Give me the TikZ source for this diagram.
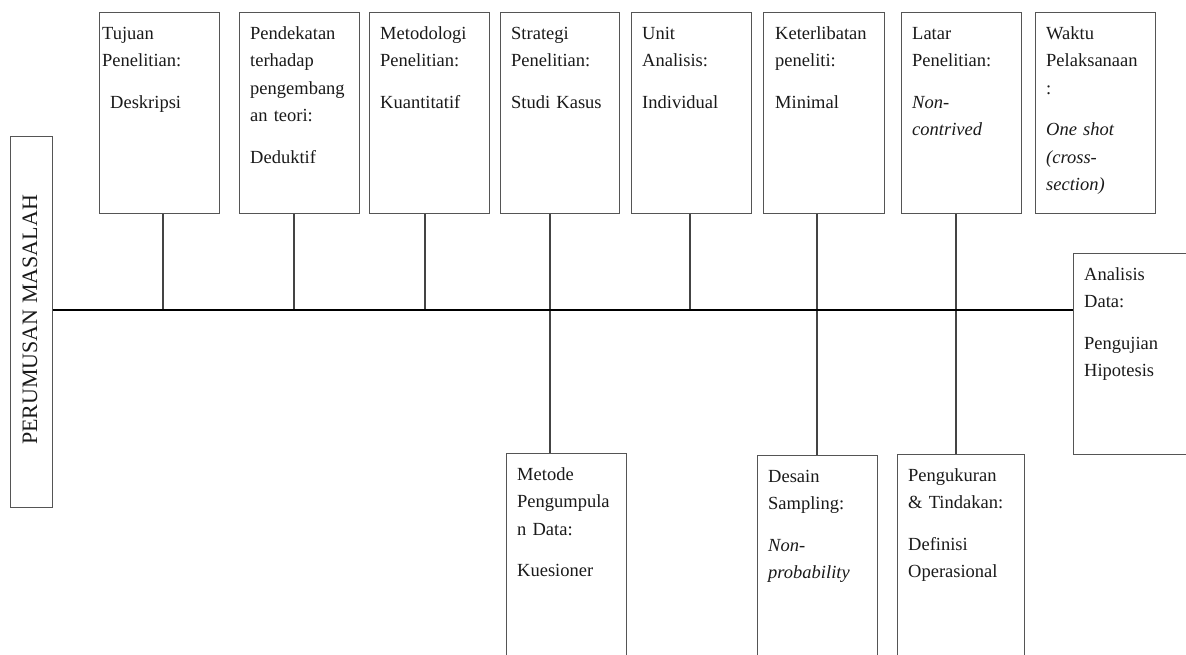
\documentclass[tikz,border=0pt]{standalone}
\usepackage{fontspec}
\setmainfont{Liberation Serif}
\definecolor{boxgray}{HTML}{555555}
\definecolor{txtcol}{HTML}{1A1A1A}
\begin{document}
\begin{tikzpicture}[x=1pt,y=-1pt,
  frame/.style={draw=boxgray, line width=1.2pt, anchor=north west, inner sep=0pt},
  topbox/.style={frame, minimum width=120pt, minimum height=201pt},
  botbox/.style={frame, minimum width=120pt, minimum height=240pt},
  txt/.style={anchor=north west, inner sep=0pt, text width=118pt, align=left,
    text=txtcol, font=\fontsize{18.5}{27.5}\selectfont},
  conn/.style={draw=boxgray!80!black, line width=1.1pt},
  spine/.style={draw=black, line width=2.8pt}
]
\useasboundingbox (0,0) rectangle (1186,655);
\fill[white] (0,0) rectangle (1186,655);

% left box
\node[frame, minimum width=42pt, minimum height=371pt] (pm) at (10,136) {};
\node[rotate=90, text=txtcol, font=\fontsize{22}{26}\selectfont] (pmt) at (30,320) {PERUMUSAN MASALAH};

% right box
\node[frame, minimum width=125pt, minimum height=201pt] (ad) at (1073,253) {};
\node[txt] (adt) at (1084,261) {\strut Analisis\\Data:\\[14pt]Pengujian\\Hipotesis};

% top boxes
\node[topbox] (b1) at (99,12) {};
\node[topbox] (b2) at (239,12) {};
\node[topbox] (b3) at (369,12) {};
\node[topbox, minimum width=119pt] (b4) at (500,12) {};
\node[topbox] (b5) at (631,12) {};
\node[topbox, minimum width=121pt] (b6) at (763,12) {};
\node[topbox] (b7) at (901,12) {};
\node[topbox] (b8) at (1035,12) {};

\node[txt] (t1) at (102,20) {\strut Tujuan\\Penelitian:\\[14pt]\hspace*{8pt}Deskripsi};
\node[txt] (t2) at (250,20) {\strut Pendekatan\\terhadap\\pengembang\\an teori:\\[14pt]Deduktif};
\node[txt] (t3) at (380,20) {\strut Metodologi\\Penelitian:\\[14pt]Kuantitatif};
\node[txt] (t4) at (511,20) {\strut Strategi\\Penelitian:\\[14pt]Studi Kasus};
\node[txt] (t5) at (642,20) {\strut Unit\\Analisis:\\[14pt]Individual};
\node[txt] (t6) at (775,20) {\strut Keterlibatan\\peneliti:\\[14pt]Minimal};
\node[txt] (t7) at (912,20) {\strut Latar\\Penelitian:\\[14pt]\textit{Non-}\\\textit{contrived}};
\node[txt] (t8) at (1046,20) {\strut Waktu\\Pelaksanaan\\:\\[14pt]\textit{One shot}\\\textit{(cross-}\\\textit{section)}};

% bottom boxes
\node[botbox] (c1) at (506,453) {};
\node[botbox] (c2) at (757,455) {};
\node[botbox, minimum width=127pt] (c3) at (897,454) {};

\node[txt] (u1) at (517,461) {\strut Metode\\Pengumpula\\n Data:\\[14pt]Kuesioner};
\node[txt] (u2) at (768,463) {\strut Desain\\Sampling:\\[14pt]\textit{Non-}\\\textit{probability}};
\node[txt] (u3) at (908,462) {\strut Pengukuran\\\& Tindakan:\\[14pt]Definisi\\Operasional};

% spine junctions
\coordinate (j1) at (163,310);
\coordinate (j2) at (294,310);
\coordinate (j3) at (425,310);
\coordinate (j4) at (550,310);
\coordinate (j5) at (690,310);
\coordinate (j6) at (817,310);
\coordinate (j7) at (956,310);

% connectors
\draw[conn] (j1 |- b1.south) -- (j1);
\draw[conn] (j2 |- b2.south) -- (j2);
\draw[conn] (j3 |- b3.south) -- (j3);
\draw[conn] (j4 |- b4.south) -- (j4 |- c1.north);
\draw[conn] (j5 |- b5.south) -- (j5);
\draw[conn] (j6 |- b6.south) -- (j6 |- c2.north);
\draw[conn] (j7 |- b7.south) -- (j7 |- c3.north);

% main line
\draw[spine] (pm.east |- j1) -- (ad.west |- j1);
\end{tikzpicture}
\end{document}
